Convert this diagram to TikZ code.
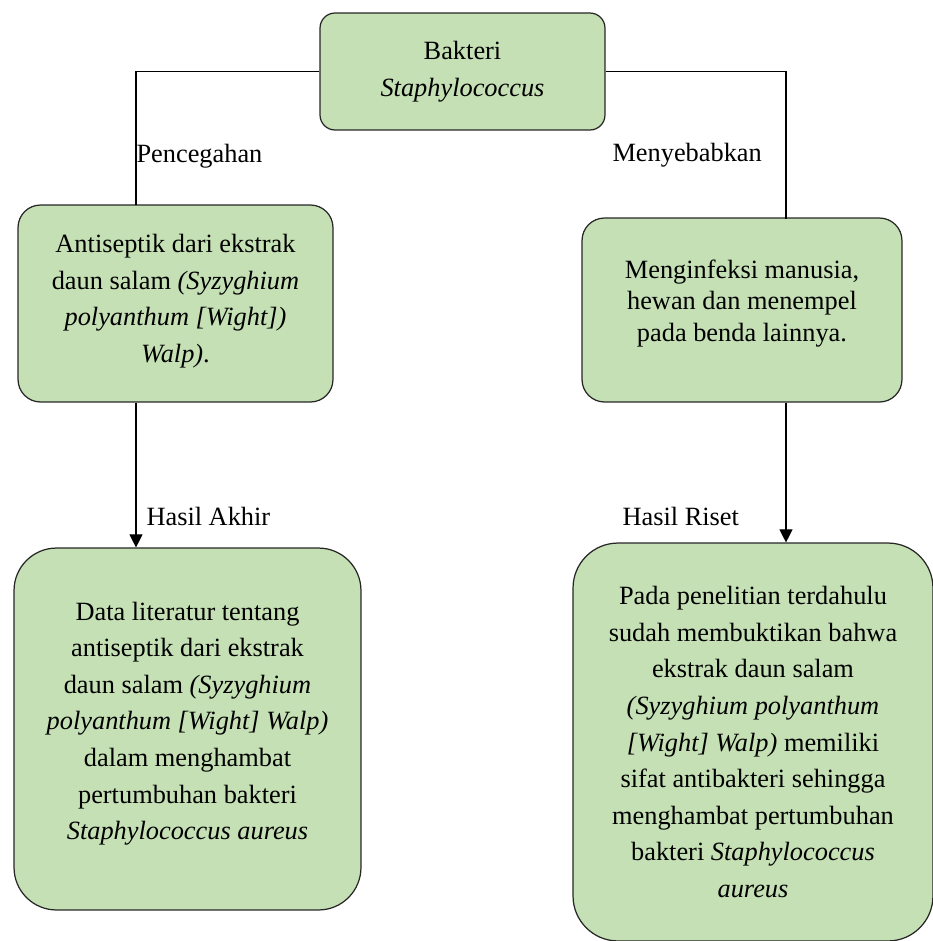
\documentclass[tikz,border=0pt]{standalone}
\usepackage{fontspec}
\setmainfont{Liberation Serif}
\usetikzlibrary{arrows.meta}
\definecolor{daun}{HTML}{C5E0B4}
\tikzset{
    kotak/.style={draw=black!85, fill=daun, line width=0.7pt, align=center,
        font=\fontsize{15}{20.8}\selectfont},
    label/.style={font=\fontsize{15}{18}\selectfont, inner sep=0pt},
    panah/.style={-{Triangle[length=0.26cm,width=0.26cm]}},
}

\begin{document}
\begin{tikzpicture}[x=0.02cm,y=0.02cm,line width=0.6pt]
        \useasboundingbox (0,0) rectangle (933,-941);
        \node[kotak, rounded corners=0.3cm, minimum width=5.7cm, minimum height=2.34cm] (bakteri) at (462.5,-71.5) {Bakteri\\\textit{Staphylococcus}};
        \node[kotak, rounded corners=0.45cm, minimum width=6.3cm, minimum height=3.94cm] (antiseptik) at (175.5,-303.5) {Antiseptik dari ekstrak\\daun salam \textit{(Syzyghium}\\\textit{polyanthum [Wight])}\\\textit{Walp)}.\\[-15pt]};
        \node[kotak, rounded corners=0.45cm, minimum width=6.4cm, minimum height=3.68cm, font=\fontsize{15}{18}\selectfont] (infeksi) at (742,-310) {Menginfeksi manusia,\\hewan dan menempel\\pada benda lainnya.\\[-7pt]};
        \node[kotak, rounded corners=0.85cm, minimum width=6.94cm, minimum height=7.24cm] (literatur) at (187.5,-729) {Data literatur tentang\\antiseptik dari ekstrak\\daun salam \textit{(Syzyghium}\\\textit{polyanthum [Wight] Walp)}\\dalam menghambat\\pertumbuhan bakteri\\\textit{Staphylococcus aureus}\\[-11.5pt]};
        \node[kotak, rounded corners=0.9cm, minimum width=7.2cm, minimum height=7.96cm] (riset) at (753,-742) {Pada penelitian terdahulu\\sudah membuktikan bahwa\\ekstrak daun salam\\\textit{(Syzyghium polyanthum}\\\textit{[Wight] Walp)} memiliki\\sifat antibakteri sehingga\\menghambat pertumbuhan\\bakteri \textit{Staphylococcus}\\\textit{aureus}};
        % garis penghubung
        \coordinate (kiri) at (136,-205);
        \coordinate (kanan) at (786,-219);
        \draw (bakteri.west) -| (kiri);
        \draw (bakteri.east) -| (kanan);
        \draw[panah] (kiri |- antiseptik.south) -- (kiri |- literatur.north);
        \draw[panah] (kanan |- infeksi.south) -- (kanan |- riset.north);
        % label
        \node[label, anchor=west] (cegah) at (136,-156) {Pencegahan};
        \node[label, anchor=west] (sebab) at (612,-155) {Menyebabkan};
        \node[label, anchor=west] (akhir) at (146,-516) {Hasil Akhir};
        \node[label, anchor=west] (hasil) at (622,-516) {Hasil Riset};
    \end{tikzpicture}
\end{document}
